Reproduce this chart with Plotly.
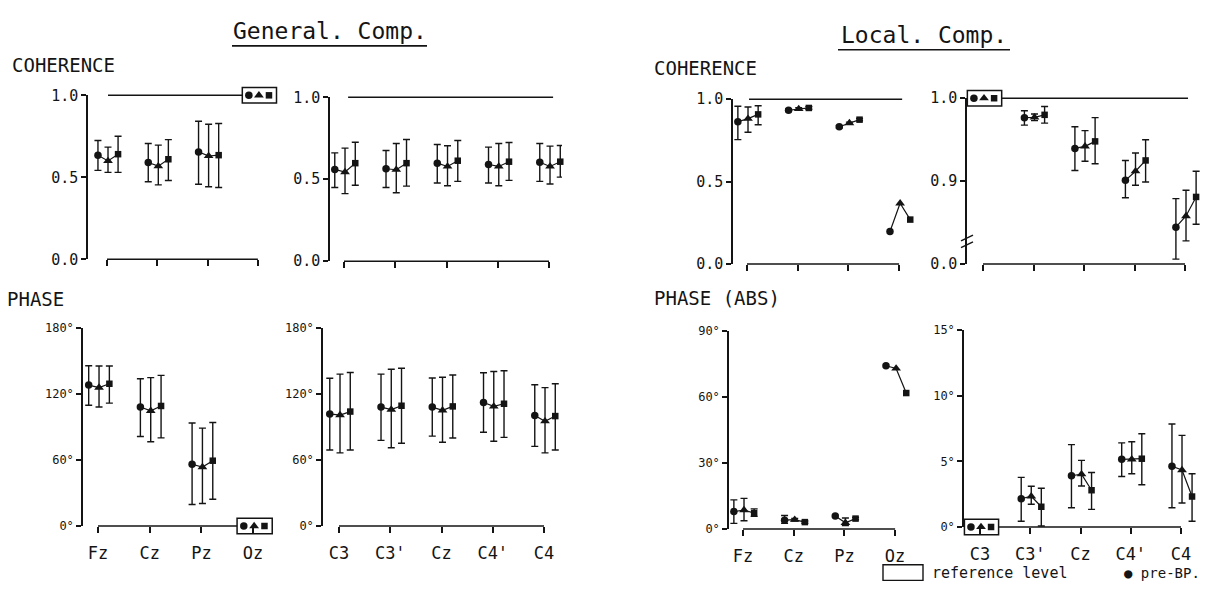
import plotly.graph_objects as go

W, H = 1209, 600
INK = "#141414"
FONT = "DejaVu Sans Mono"

# ---------------- data ----------------
mid_sites = ["Fz", "Cz", "Pz", "Oz"]
lat_sites = ["C3", "C3'", "Cz", "C4'", "C4"]

# series order in every block: [pre-BP (circle), triangle, square]

# General comp. - coherence, midline (Fz, Cz, Pz); Oz is the reference (1.0)
gc_mid_val = [[0.635, 0.590, 0.655], [0.600, 0.568, 0.630], [0.641, 0.610, 0.635]]
gc_mid_hi = [[0.724, 0.706, 0.842], [0.684, 0.696, 0.824], [0.750, 0.730, 0.828]]
gc_mid_lo = [[0.542, 0.473, 0.458], [0.530, 0.454, 0.442], [0.530, 0.480, 0.438]]

# General comp. - coherence, lateral (C3, C3', Cz, C4', C4)
gc_lat_val = [[0.560, 0.564, 0.598, 0.590, 0.604],
              [0.544, 0.558, 0.578, 0.578, 0.578],
              [0.598, 0.598, 0.613, 0.607, 0.607]]
gc_lat_hi = [[0.661, 0.675, 0.712, 0.696, 0.718],
             [0.690, 0.718, 0.704, 0.718, 0.702],
             [0.726, 0.742, 0.736, 0.724, 0.706]]
gc_lat_lo = [[0.450, 0.450, 0.477, 0.477, 0.487],
             [0.412, 0.418, 0.460, 0.460, 0.471],
             [0.463, 0.458, 0.487, 0.493, 0.513]]

# Local comp. - coherence, midline (Fz, Cz, Pz, Oz)
lc_mid_val = [[0.863, 0.933, 0.833, 0.198], [0.882, 0.941, 0.855, 0.369], [0.908, 0.947, 0.876, 0.270]]
lc_mid_hi = [[0.957, 0.941, 0.840, 0.198], [0.953, 0.948, 0.861, 0.369], [0.960, 0.955, 0.883, 0.270]]
lc_mid_lo = [[0.755, 0.925, 0.826, 0.198], [0.800, 0.934, 0.849, 0.369], [0.845, 0.939, 0.869, 0.270]]

# Local comp. - coherence, lateral (C3', Cz, C4', C4); C3 is the reference (1.0)
lc_lat_val = [[0.9766, 0.9395, 0.901, 0.8445], [0.977, 0.942, 0.912, 0.858], [0.980, 0.948, 0.925, 0.881]]
lc_lat_hi = [[0.985, 0.9656, 0.925, 0.879], [0.981, 0.961, 0.934, 0.889], [0.990, 0.9766, 0.950, 0.912]]
lc_lat_lo = [[0.9676, 0.9129, 0.880, 0.806], [0.973, 0.924, 0.895, 0.828], [0.970, 0.921, 0.899, 0.848]]

# General comp. - phase (deg), midline (Fz, Cz, Pz); Oz is the reference (0)
gp_mid_val = [[128.2, 108.3, 56.2], [125.9, 104.8, 53.6], [129.4, 109.2, 59.4]]
gp_mid_hi = [[145.8, 134.0, 93.7], [145.5, 135.0, 89.0], [145.5, 137.0, 94.2]]
gp_mid_lo = [[109.8, 81.4, 19.6], [108.3, 76.7, 20.5], [111.8, 80.2, 24.3]]

# General comp. - phase (deg), lateral (C3, C3', Cz, C4', C4)
gp_lat_val = [[102.0, 108.2, 108.2, 112.4, 100.6],
              [100.9, 105.9, 105.3, 108.8, 95.3],
              [104.1, 109.4, 108.8, 111.2, 100.0]]
gp_lat_hi = [[134.4, 138.2, 134.7, 139.4, 128.5],
             [138.2, 142.6, 135.3, 140.6, 125.9],
             [139.7, 143.5, 137.4, 141.2, 129.4]]
gp_lat_lo = [[69.1, 77.9, 81.8, 85.3, 72.4],
             [66.5, 71.2, 76.2, 77.1, 66.5],
             [69.1, 75.3, 80.0, 80.6, 69.1]]

# Local comp. - absolute phase (deg), midline (Fz, Cz, Pz, Oz)
lp_mid_val = [[7.9, 4.0, 5.9, 74.2], [8.6, 4.2, 2.8, 73.0], [7.2, 3.1, 4.7, 61.8]]
lp_mid_hi = [[13.2, 6.1, 5.9, 74.2], [13.9, 4.8, 5.0, 73.0], [9.1, 3.6, 5.2, 61.8]]
lp_mid_lo = [[2.5, 2.5, 5.9, 74.2], [3.7, 3.6, 1.5, 73.0], [5.7, 2.6, 4.2, 61.8]]

# Local comp. - absolute phase (deg), lateral (C3', Cz, C4', C4); C3 is the reference (0)
lp_lat_val = [[2.15, 3.90, 5.15, 4.63], [2.34, 4.02, 5.15, 4.34], [1.54, 2.80, 5.20, 2.32]]
lp_lat_hi = [[3.78, 6.27, 6.41, 7.85], [3.10, 5.07, 6.49, 6.98], [2.95, 4.15, 7.10, 4.05]]
lp_lat_lo = [[0.44, 1.46, 3.85, 1.46], [1.73, 3.12, 4.05, 1.83], [0.07, 1.34, 3.22, 0.44]]

coh_ticks = [0.0, 0.5, 1.0]
coh_tick_text = ["0.0", "0.5", "1.0"]
coh_zoom_ticks = [0.8, 0.9, 1.0]
coh_zoom_text = ["0.0", "0.9", "1.0"]
gp_ticks = [0, 60, 120, 180]
gp_tick_text = ["0°", "60°", "120°", "180°"]
lp_mid_ticks = [0, 30, 60, 90]
lp_mid_text = ["0°", "30°", "60°", "90°"]
lp_lat_ticks = [0, 5, 10, 15]
lp_lat_text = ["0°", "5°", "10°", "15°"]

# ---------------- drawing ----------------
OFFS = [-0.18, 0.02, 0.22]
SYMS = ["circle", "triangle-up", "square"]
SIZES = [7.5, 8.5, 6.5]

fig = go.Figure()
shapes = []
annotations = []


def panel(n, geo, cats, idx, val, hi, lo, yrange, ytv, ytt, ylab_size,
          show_x=False, ref=None, refline=None, base=None, brk=False):
    sfx = "" if n == 1 else str(n)
    xa, ya = "x" + sfx, "y" + sfx
    ax_px, t0, step, right, top, bot = geo
    xr = [(ax_px - t0) / step, (right - t0) / step]
    ylo, yhi = yrange
    hpx = bot - top

    def fx(c):
        return (c - xr[0]) / (xr[1] - xr[0])

    def fy(v):
        return (v - ylo) / (yhi - ylo)

    xd, yd = xa + " domain", ya + " domain"

    def seg(x0, y0, x1, y1, w=1.5):
        shapes.append(dict(type="line", xref=xd, yref=yd, x0=x0, y0=y0, x1=x1, y1=y1,
                           line=dict(color=INK, width=w)))

    # lines joining the three conditions of each electrode
    lx, ly = [], []
    for j, c in enumerate(idx):
        for k in range(3):
            lx.append(c + OFFS[k])
            ly.append(val[k][j])
        lx.append(None)
        ly.append(None)
    fig.add_trace(go.Scatter(x=lx, y=ly, mode="lines", line=dict(color=INK, width=1.2),
                             xaxis=xa, yaxis=ya, showlegend=False, hoverinfo="skip",
                             cliponaxis=False))

    for k in range(3):
        xs = [c + OFFS[k] for c in idx]
        up = [h - v for h, v in zip(hi[k], val[k])]
        dn = [v - l for v, l in zip(val[k], lo[k])]
        we = [j for j in range(len(idx)) if up[j] > 0 or dn[j] > 0]
        ne = [j for j in range(len(idx)) if j not in we]
        mk = dict(symbol=SYMS[k], size=SIZES[k], color=INK, line=dict(width=0))
        if we:
            fig.add_trace(go.Scatter(
                x=[xs[j] for j in we], y=[val[k][j] for j in we], mode="markers",
                marker=mk,
                error_y=dict(type="data", symmetric=False,
                             array=[up[j] for j in we], arrayminus=[dn[j] for j in we],
                             width=3.5, thickness=1.4, color=INK),
                xaxis=xa, yaxis=ya, showlegend=False, cliponaxis=False))
        if ne:
            fig.add_trace(go.Scatter(
                x=[xs[j] for j in ne], y=[val[k][j] for j in ne], mode="markers",
                marker=mk, xaxis=xa, yaxis=ya, showlegend=False, cliponaxis=False))

    # boxed reference electrode
    if ref is not None:
        rc, rv = ref
        shapes.append(dict(type="rect", xref=xd, yref=yd,
                           x0=fx(rc - 0.31), x1=fx(rc + 0.37),
                           y0=fy(rv) - 8 / hpx, y1=fy(rv) + 8 / hpx,
                           line=dict(color=INK, width=1.5), fillcolor="rgba(0,0,0,0)"))
        for k in range(3):
            fig.add_trace(go.Scatter(
                x=[rc + OFFS[k]], y=[rv], mode="markers",
                marker=dict(symbol=SYMS[k], size=SIZES[k], color=INK, line=dict(width=0)),
                xaxis=xa, yaxis=ya, showlegend=False, cliponaxis=False))

    if refline is not None:
        seg(fx(refline[0]), fy(refline[2]), fx(refline[1]), fy(refline[2]))
    if base is not None:
        seg(fx(base[0]), 0, fx(base[1]), 0)

    if brk:
        for dy in (20, 27):
            shapes.append(dict(type="line", xref="paper", yref="paper",
                               x0=(ax_px - 6) / W, y0=1 - (bot - dy + 3) / H,
                               x1=(ax_px + 6) / W, y1=1 - (bot - dy - 3) / H,
                               line=dict(color=INK, width=1.4)))

    fig.update_layout(**{
        "xaxis" + sfx: dict(domain=[ax_px / W, right / W], range=xr, anchor=ya,
                            tickmode="array", tickvals=list(range(len(cats))),
                            ticktext=cats, showticklabels=show_x, ticks="outside",
                            ticklen=6, tickwidth=1.5, tickcolor=INK, showline=False,
                            showgrid=False, zeroline=False, fixedrange=True,
                            ticklabelstandoff=6,
                            tickfont=dict(family=FONT, size=17, color=INK)),
        "yaxis" + sfx: dict(domain=[1 - bot / H, 1 - top / H], range=[ylo, yhi], anchor=xa,
                            tickmode="array", tickvals=ytv, ticktext=ytt, ticks="outside",
                            ticklen=5, tickwidth=1.5, tickcolor=INK, showline=True,
                            linecolor=INK, linewidth=1.5, showgrid=False, zeroline=False,
                            fixedrange=True,
                            tickfont=dict(family=FONT, size=ylab_size, color=INK)),
    })


# geometry: (y-axis x, first tick x, tick step, right edge, top y, bottom y) in px
panel(1, (88, 107, 50.3, 285, 89, 258), mid_sites, [0, 1, 2],
      gc_mid_val, gc_mid_hi, gc_mid_lo, (0.0, 1.0), coh_ticks, coh_tick_text, 15,
      ref=(3, 1.0), refline=(0.02, 2.69, 1.0), base=(0, 3))
panel(2, (330, 344, 51.25, 562, 91, 260), lat_sites, [0, 1, 2, 3, 4],
      gc_lat_val, gc_lat_hi, gc_lat_lo, (0.0, 1.0), coh_ticks, coh_tick_text, 15,
      refline=(0.08, 4.08, 1.0), base=(0, 4))
panel(3, (733, 747, 50.7, 915, 93, 263), mid_sites, [0, 1, 2, 3],
      lc_mid_val, lc_mid_hi, lc_mid_lo, (0.0, 1.0), coh_ticks, coh_tick_text, 15,
      refline=(0.04, 3.06, 1.0), base=(0, 3))
panel(4, (967, 983, 50.5, 1200, 92, 263), lat_sites, [1, 2, 3, 4],
      lc_lat_val, lc_lat_hi, lc_lat_lo, (0.8, 1.0), coh_zoom_ticks, coh_zoom_text, 15,
      ref=(0, 1.0), refline=(0.37, 4.06, 1.0), base=(0, 4), brk=True)
panel(5, (83, 98, 51.7, 285, 329, 533), mid_sites, [0, 1, 2],
      gp_mid_val, gp_mid_hi, gp_mid_lo, (0, 180), gp_ticks, gp_tick_text, 12,
      show_x=True, ref=(3, 0), base=(0, 2.69))
panel(6, (323, 339, 51.25, 562, 329, 533), lat_sites, [0, 1, 2, 3, 4],
      gp_lat_val, gp_lat_hi, gp_lat_lo, (0, 180), gp_ticks, gp_tick_text, 12,
      show_x=True, base=(0, 4))
panel(7, (729, 743, 50.7, 915, 332, 536), mid_sites, [0, 1, 2, 3],
      lp_mid_val, lp_mid_hi, lp_mid_lo, (0, 90), lp_mid_ticks, lp_mid_text, 12,
      show_x=True, base=(0, 3))
panel(8, (964, 980, 50.25, 1200, 331, 534), lat_sites, [1, 2, 3, 4],
      lp_lat_val, lp_lat_hi, lp_lat_lo, (0, 15), lp_lat_ticks, lp_lat_text, 12,
      show_x=True, ref=(0, 0), base=(0.37, 4))


def text(s, x, y, size, anchor="left"):
    annotations.append(dict(text=s, x=x / W, y=1 - y / H, xref="paper", yref="paper",
                            xanchor=anchor, yanchor="middle", showarrow=False,
                            font=dict(family=FONT, size=size, color=INK)))


def hline(x0, x1, y, w=1.6):
    shapes.append(dict(type="line", xref="paper", yref="paper", x0=x0 / W, x1=x1 / W,
                       y0=1 - y / H, y1=1 - y / H, line=dict(color=INK, width=w)))


text("General. Comp.", 330, 23, 23, "center")
hline(232, 427, 38)
text("Local. Comp.", 924, 27, 23, "center")
hline(838, 1010, 42)

text("COHERENCE", 10, 58, 19)
text("PHASE", 5, 299, 19)
text("COHERENCE", 652, 61, 19)
text("PHASE (ABS)", 652, 298, 19)

# legend strip
shapes.append(dict(type="rect", xref="paper", yref="paper", x0=883 / W, x1=923 / W,
                   y0=1 - 589 / H, y1=1 - 573 / H, line=dict(color=INK, width=1.4),
                   fillcolor="rgba(0,0,0,0)"))
text("reference level", 930, 581, 15)
text("● pre-BP.", 1122, 581, 14)

fig.update_layout(
    width=W, height=H, margin=dict(l=0, r=0, t=0, b=0),
    paper_bgcolor="white", plot_bgcolor="white",
    shapes=shapes, annotations=annotations, showlegend=False,
)

fig.write_html("out.html", config={"displayModeBar": False})
